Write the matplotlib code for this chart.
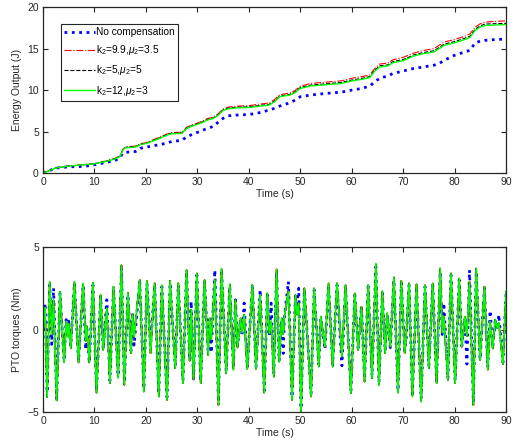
import matplotlib
matplotlib.use("Agg")
import matplotlib.pyplot as plt


# ---- energy output (J) ----
energy_time = [0, 2.5, 5, 8, 10, 12, 14, 15, 15.5, 16,
               18, 19, 20, 21, 22.5, 24, 25, 27, 28, 29,
               30, 31, 32, 33, 34, 35, 36, 38, 40, 42,
               44, 45, 46, 48, 49, 50, 52, 55, 58, 60,
               62, 63.5, 64.5, 65.5, 67, 68, 70, 71, 72, 74,
               76, 77, 78, 80, 82, 83, 84, 85, 86, 88,
               90]
energy_nocomp = [0, 0.6, 0.75, 0.8, 1.0, 1.25, 1.5, 1.9, 2.4, 2.5,
                 2.6, 3.0, 3.1, 3.25, 3.4, 3.6, 3.8, 3.95, 4.4, 4.65,
                 4.9, 5.15, 5.4, 5.6, 6.1, 6.6, 6.9, 7.0, 7.05, 7.27,
                 7.6, 7.8, 8.07, 8.47, 8.8, 9.2, 9.4, 9.6, 9.75, 10.0,
                 10.2, 10.5, 11.0, 11.45, 11.7, 12.0, 12.3, 12.45, 12.6, 12.8,
                 13.0, 13.2, 13.6, 14.2, 14.6, 14.8, 15.7, 15.9, 16.0, 16.1,
                 16.15]
energy_k99 = [0, 0.62, 0.86, 1.02, 1.15, 1.42, 1.78, 2.1, 2.85, 3.15,
              3.25, 3.55, 3.65, 3.9, 4.28, 4.68, 4.88, 4.92, 5.55, 5.82,
              6.02, 6.28, 6.58, 6.72, 7.12, 7.72, 7.95, 8.08, 8.12, 8.3,
              8.45, 8.85, 9.45, 9.65, 9.95, 10.45, 10.8, 10.95, 11.12, 11.42,
              11.62, 11.82, 12.62, 13.15, 13.25, 13.65, 13.95, 14.2, 14.45, 14.78,
              15.0, 15.4, 15.8, 16.1, 16.5, 16.78, 17.6, 18.0, 18.2, 18.28,
              18.35]
energy_k5 = [0, 0.61, 0.85, 1.01, 1.13, 1.39, 1.73, 2.04, 2.79, 3.09,
             3.18, 3.49, 3.59, 3.83, 4.2, 4.6, 4.8, 4.84, 5.46, 5.72,
             5.93, 6.17, 6.47, 6.62, 7.02, 7.62, 7.83, 7.95, 7.98, 8.14,
             8.29, 8.69, 9.29, 9.49, 9.8, 10.3, 10.61, 10.76, 10.92, 11.21,
             11.42, 11.62, 12.42, 12.93, 13.03, 13.43, 13.69, 13.94, 14.23, 14.54,
             14.74, 15.14, 15.55, 15.85, 16.25, 16.5, 17.35, 17.76, 17.96, 18.01,
             18.05]
energy_k12 = [0, 0.6, 0.84, 1.0, 1.12, 1.37, 1.7, 2.0, 2.75, 3.05,
              3.13, 3.45, 3.55, 3.78, 4.14, 4.54, 4.74, 4.78, 5.4, 5.66,
              5.86, 6.1, 6.4, 6.55, 6.95, 7.55, 7.75, 7.87, 7.9, 8.05,
              8.2, 8.6, 9.2, 9.4, 9.7, 10.2, 10.5, 10.65, 10.8, 11.1,
              11.3, 11.5, 12.3, 12.8, 12.9, 13.3, 13.55, 13.8, 14.1, 14.4,
              14.6, 15.0, 15.4, 15.7, 16.1, 16.35, 17.2, 17.6, 17.8, 17.85,
              17.9]

# ---- PTO torque (Nm), turning points ----
torque_time = [0.0, 0.4, 0.8, 1.3, 1.7, 2.05, 2.65, 3.3, 4.1, 4.5,
               4.8, 5.0, 5.4, 6.1, 6.9, 7.8, 8.3, 8.5, 9.0, 9.7,
               10.4, 11.2, 11.7, 12.4, 13.0, 13.7, 14.6, 15.25, 15.8, 16.5,
               17.1, 17.4, 17.7, 18.8, 19.6, 20.2, 20.9, 21.7, 22.5, 23.1,
               24.1, 24.7, 25.7, 26.3, 27.2, 27.9, 28.5, 28.8, 29.25, 29.9,
               30.65, 31.4, 32.1, 32.4, 32.7, 33.4, 34.1, 34.7, 35.6, 36.3,
               37.0, 37.4, 37.8, 38.4, 38.7, 39.1, 39.7, 40.7, 41.4, 42.2,
               43.0, 43.6, 44.0, 44.35, 44.85, 45.4, 45.9, 46.4, 46.7, 46.9,
               47.7, 48.4, 49.05, 49.4, 49.7, 50.15, 50.8, 52.1, 52.7, 53.6,
               54.0, 54.8, 55.5, 56.3, 57.15, 58.1, 58.8, 59.85, 60.6, 61.25,
               61.9, 62.5, 63.2, 63.95, 64.7, 65.3, 65.96, 66.5, 66.9, 67.5,
               68.2, 69.0, 69.65, 70.3, 70.6, 71.15, 71.8, 72.6, 73.5, 74.25,
               75.0, 75.75, 76.5, 77.2, 77.6, 77.9, 78.7, 79.3, 80.1, 80.9,
               81.4, 82.0, 82.4, 82.9, 83.65, 84.2, 84.95, 85.8, 86.45, 86.9,
               87.4, 87.9, 88.3, 88.6, 89.4, 90.0]
torque_comp = [0.0, 1.35, -4.1, 2.9, -0.3, 1.8, -4.3, 2.3, -2.0, 0.5,
               -0.45, 0.35, -1.15, 2.9, -2.0, 2.8, -0.7, 0.2, -2.0, 2.85,
               -3.85, 2.1, -1.24, 1.3, -3.25, 2.6, -2.95, 3.9, -3.36, 2.23,
               -1.44, 0.94, -0.44, 3.0, -3.77, 2.96, -1.44, 2.8, -4.07, 2.7,
               -4.27, 2.96, -2.35, 2.8, -3.26, 3.6, -1.9, 1.2, -3.0, 3.4,
               -3.26, 3.0, -1.55, 0.68, -0.6, 3.0, -4.58, 3.7, -2.66, 2.74,
               -2.46, 1.79, -1.1, 0.68, -0.2, 0.9, -2.4, 2.7, -2.4, 2.1,
               -3.83, 2.2, -0.23, 0.5, -2.86, 3.65, -1.95, 0.68, -0.3, 0.78,
               2.3, -4.27, 2.09, 0.9, 1.6, -4.98, 2.5, -4.07, 2.5, -2.25,
               0.78, -1.04, 2.8, -2.25, 2.8, -1.65, 2.7, -3.87, 2.19, -1.24,
               1.38, -3.16, 2.7, -2.96, 4.0, -3.36, 2.32, -1.44, 0.99, -1.04,
               3.16, -3.83, 2.96, -1.44, -0.3, 2.8, -4.07, 2.74, -4.37, 2.7,
               -2.35, 2.8, -3.26, 3.7, -0.2, 0.8, -3.06, 3.4, -3.26, 3.1,
               -1.04, 0.78, -0.4, 2.9, -4.58, 3.7, -1.85, 2.6, -2.45, 0.5,
               -1.15, 0.6, 0.1, 0.4, -2.1, 2.3]
torque_nocomp = [0.0, 1.6, -3.8, 2.7, -0.9, 2.5, -4.2, 2.2, -1.9, 0.6,
                 -0.3, 0.5, -1.0, 2.8, -1.9, 2.7, -1.2, 0.2, -2.0, 2.7,
                 -3.7, 2.0, -1.2, 1.8, -3.1, 2.5, -2.8, 3.7, -3.2, 2.1,
                 -1.3, 0.9, -0.95, 2.9, -3.6, 2.8, -1.0, 2.7, -3.9, 2.6,
                 -4.1, 2.8, -2.2, 2.7, -3.1, 3.5, -1.8, 1.7, -3.0, 3.3,
                 -3.1, 2.9, -1.4, 0.6, -1.4, 3.6, -4.4, 3.6, -2.5, 2.6,
                 -2.3, 1.8, -1.0, 0.6, -0.3, 1.6, -2.3, 2.6, -2.3, 2.4,
                 -3.7, 2.1, -0.4, 1.6, -2.7, 3.5, -1.9, 0.6, -1.45, 0.7,
                 2.9, -4.1, 1.9, 1.5, 2.5, -4.8, 2.4, -3.9, 2.4, -2.1,
                 0.7, -1.2, 2.7, -2.1, 2.7, -2.2, 2.6, -3.7, 2.1, -1.1,
                 1.4, -3.0, 2.6, -2.8, 3.8, -3.2, 2.2, -1.3, 0.9, -1.1,
                 3.0, -3.7, 2.8, -1.3, -0.5, 2.7, -3.9, 2.6, -4.2, 2.6,
                 -2.2, 2.7, -3.1, 3.5, -0.3, 1.6, -3.0, 3.3, -3.1, 3.0,
                 -1.0, 0.7, -2.1, 3.6, -4.4, 3.5, -1.8, 2.5, -2.3, 1.15,
                 -1.1, 0.5, 0.0, 0.9, -2.0, 2.2]
# the three compensated cases overlap completely in the torque panel
torque_k99 = torque_comp
torque_k5 = torque_comp
torque_k12 = torque_comp

labels = ["No compensation",
          r"k$_2$=9.9,$\mu_2$=3.5",
          r"k$_2$=5,$\mu_2$=5",
          r"k$_2$=12,$\mu_2$=3"]
time_ticks = [0, 10, 20, 30, 40, 50, 60, 70, 80, 90]

plt.rcParams['font.family'] = ['Liberation Sans', 'DejaVu Sans']
plt.rcParams['mathtext.fontset'] = 'custom'
plt.rcParams['mathtext.rm'] = 'Liberation Sans'
plt.rcParams['mathtext.it'] = 'Liberation Sans:italic'
plt.rcParams['font.size'] = 7.5

axcol = (0.15, 0.15, 0.15)


def styleAxes(ax):
    for sp in ax.spines.values():
        sp.set_color(axcol)
        sp.set_linewidth(0.9)
    ax.tick_params(direction='in', top=True, right=True, length=3.5,
                   width=0.8, colors=axcol, labelsize=7.5, pad=3)
    ax.set_xlim(0, 90)
    ax.set_xticks(time_ticks)
    ax.set_xlabel("Time (s)", color=axcol, fontsize=7.5, labelpad=1)


fig = plt.figure(figsize=(5.17, 4.46), dpi=100)
ax1 = fig.add_axes([0.0832, 0.612, 0.8956, 0.372])
ax2 = fig.add_axes([0.0832, 0.0762, 0.8956, 0.370])

ax1.plot(energy_time, energy_nocomp, color='b', ls=':', lw=2.0, label=labels[0])
ax1.plot(energy_time, energy_k99, color='r', ls='-.', lw=0.8, label=labels[1])
ax1.plot(energy_time, energy_k5, color='k', ls='--', lw=0.8, label=labels[2])
ax1.plot(energy_time, energy_k12, color=(0, 1, 0), ls='-', lw=1.0, label=labels[3])
styleAxes(ax1)
ax1.set_ylim(0, 20)
ax1.set_yticks([0, 5, 10, 15, 20])
ax1.set_ylabel("Energy Output (J)", color=axcol, fontsize=7.5, labelpad=4)
leg = ax1.legend(loc='upper left', bbox_to_anchor=(0.038, 0.9),
                 fontsize=7.3, handlelength=3.0, labelspacing=0.6,
                 borderpad=0.35, handletextpad=0.15, borderaxespad=0,
                 fancybox=False, framealpha=1)
leg.get_frame().set_edgecolor(axcol)
leg.get_frame().set_linewidth(0.8)

ax2.plot(torque_time, torque_nocomp, color='b', ls=':', lw=2.0)
ax2.plot(torque_time, torque_k99, color='r', ls='-.', lw=1.2)
ax2.plot(torque_time, torque_k5, color='k', ls='--', lw=1.0)
ax2.plot(torque_time, torque_k12, color=(0, 1, 0), ls='-', lw=1.2)
styleAxes(ax2)
ax2.set_ylim(-5, 5)
ax2.set_yticks([-5, 0, 5])
ax2.set_ylabel("PTO torques (Nm)", color=axcol, fontsize=7.5, labelpad=4)

fig.savefig("out.png", dpi=100)
